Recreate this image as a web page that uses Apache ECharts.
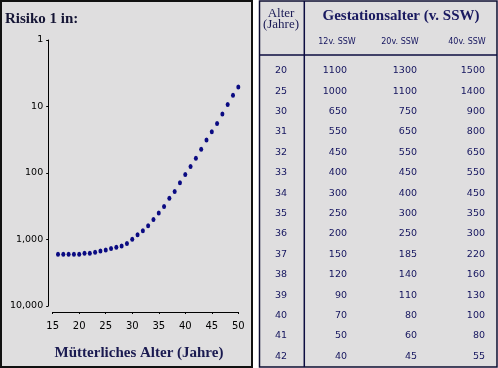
<!DOCTYPE html>
<html>
<head>
<meta charset="utf-8">
<script src="https://cdn.jsdelivr.net/npm/echarts@6/dist/echarts.min.js"></script>
<style>
html,body{margin:0;padding:0;background:#fff;}
#c{width:498px;height:368px;}
</style>
</head>
<body>
<div id="c"></div>
<script>
// ---- chart data ----
const ages = [16,17,18,19,20,21,22,23,24,25,26,27,28,29,30,31,32,33,34,35,36,37,38,39,40,41,42,43,44,45,46,47,48,49,50];
const risk = [1670,1670,1670,1670,1670,1610,1610,1560,1490,1440,1370,1310,1250,1150,990,850,740,620,500,400,320,240,190,140,105,80,60,44,32,24,18,13,9.3,6.8,5.1];
const xTicks = [15,20,25,30,35,40,45,50];
const yTicks = [1,10,100,1000,10000];

// ---- table data ----
const tableAges = [20,25,30,31,32,33,34,35,36,37,38,39,40,41,42];
const ssw12 = [1100,1000,650,550,450,400,300,250,200,150,120,90,70,50,40];
const ssw20 = [1300,1100,750,650,550,450,400,300,250,185,140,110,80,60,45];
const ssw40 = [1500,1400,900,800,650,550,450,350,300,220,160,130,100,80,55];
const colHeads = ['12v. SSW','20v. SSW','40v. SSW'];

const chart = echarts.init(document.getElementById('c'));

const BG = '#dfdedf';
const NAVY = '#14145e';
const gridLeft = 52.7, gridRight = 238.3, gridTop = 40, gridBottom = 306;

const g = [];
// panels
g.push({type:'rect', z:-10, shape:{x:1,y:1,width:251,height:366}, style:{fill:BG, stroke:'#111', lineWidth:2}});
g.push({type:'rect', z:-10, shape:{x:259.5,y:1,width:237.5,height:366}, style:{fill:BG, stroke:'#0c0c30', lineWidth:1.5}});
g.push({type:'line', z:5, shape:{x1:304.3,y1:1,x2:304.3,y2:367}, style:{stroke:'#0c0c40', lineWidth:1.5}});
g.push({type:'line', z:5, shape:{x1:259.5,y1:55,x2:497,y2:55}, style:{stroke:'#0c0c40', lineWidth:1.5}});
// titles
g.push({type:'text', z:5, style:{text:'Risiko 1 in:', x:5, y:19, textVerticalAlign:'middle', font:'bold 15px "Liberation Serif"', fill:'#151535'}});
g.push({type:'text', z:5, style:{text:'Mütterliches Alter (Jahre)', x:139, y:353, textAlign:'center', textVerticalAlign:'middle', font:'bold 15px "Liberation Serif"', fill:'#1a1a50'}});
// table headers
g.push({type:'text', z:5, style:{text:'Alter', x:281, y:13.5, textAlign:'center', textVerticalAlign:'middle', font:'13px "Liberation Serif"', fill:'#1a1a55'}});
g.push({type:'text', z:5, style:{text:'(Jahre)', x:281, y:25, textAlign:'center', textVerticalAlign:'middle', font:'13px "Liberation Serif"', fill:'#1a1a55'}});
g.push({type:'text', z:5, style:{text:'Gestationsalter (v. SSW)', x:401, y:16, textAlign:'center', textVerticalAlign:'middle', font:'bold 15px "Liberation Serif"', fill:'#1a1a60'}});
const headX = [337,400,467];
colHeads.forEach((h,i)=>{
  g.push({type:'text', z:5, style:{text:h, x:headX[i], y:42, textAlign:'center', textVerticalAlign:'middle', font:'8px "DejaVu Sans"', fill:NAVY}});
});
const numFont = '9.5px "DejaVu Sans"';
tableAges.forEach((a,i)=>{
  const y = 70.7 + i*20.4;
  g.push({type:'text', z:5, style:{text:String(a), x:281, y:y, textAlign:'center', textVerticalAlign:'middle', font:numFont, fill:NAVY}});
  g.push({type:'text', z:5, style:{text:String(ssw12[i]), x:347, y:y, textAlign:'right', textVerticalAlign:'middle', font:numFont, fill:NAVY}});
  g.push({type:'text', z:5, style:{text:String(ssw20[i]), x:417, y:y, textAlign:'right', textVerticalAlign:'middle', font:numFont, fill:NAVY}});
  g.push({type:'text', z:5, style:{text:String(ssw40[i]), x:485, y:y, textAlign:'right', textVerticalAlign:'middle', font:numFont, fill:NAVY}});
});

chart.setOption({
  animation:false,
  backgroundColor:'#ffffff',
  graphic: g,
  grid:{left:gridLeft, top:gridTop, width:gridRight-gridLeft, height:gridBottom-gridTop, containLabel:false},
  xAxis:{
    type:'value', min:xTicks[0], max:xTicks[xTicks.length-1], interval:5, offset:6,
    axisLine:{show:true, lineStyle:{color:'#000', width:1}},
    axisTick:{show:true, length:2, lineStyle:{color:'#000'}},
    splitLine:{show:false},
    axisLabel:{margin:9, color:'#000', fontFamily:'DejaVu Sans', fontSize:10}
  },
  yAxis:{
    type:'log', logBase:10, inverse:true, min:yTicks[0], max:yTicks[yTicks.length-1], offset:4.5,
    axisLine:{show:true, lineStyle:{color:'#000', width:1}},
    axisTick:{show:true, length:2, lineStyle:{color:'#000'}},
    splitLine:{show:false},
    axisLabel:{margin:5, color:'#000', fontFamily:'DejaVu Sans', fontSize:9.5,
      formatter:(v)=>Number(v).toLocaleString('en-US')}
  },
  series:[{
    type:'scatter',
    data: ages.map((a,i)=>[a, risk[i]]),
    symbol:'circle',
    symbolSize:[4,5],
    itemStyle:{color:'#0a0a82', opacity:1},
    clip:false
  }]
});
</script>
</body>
</html>
